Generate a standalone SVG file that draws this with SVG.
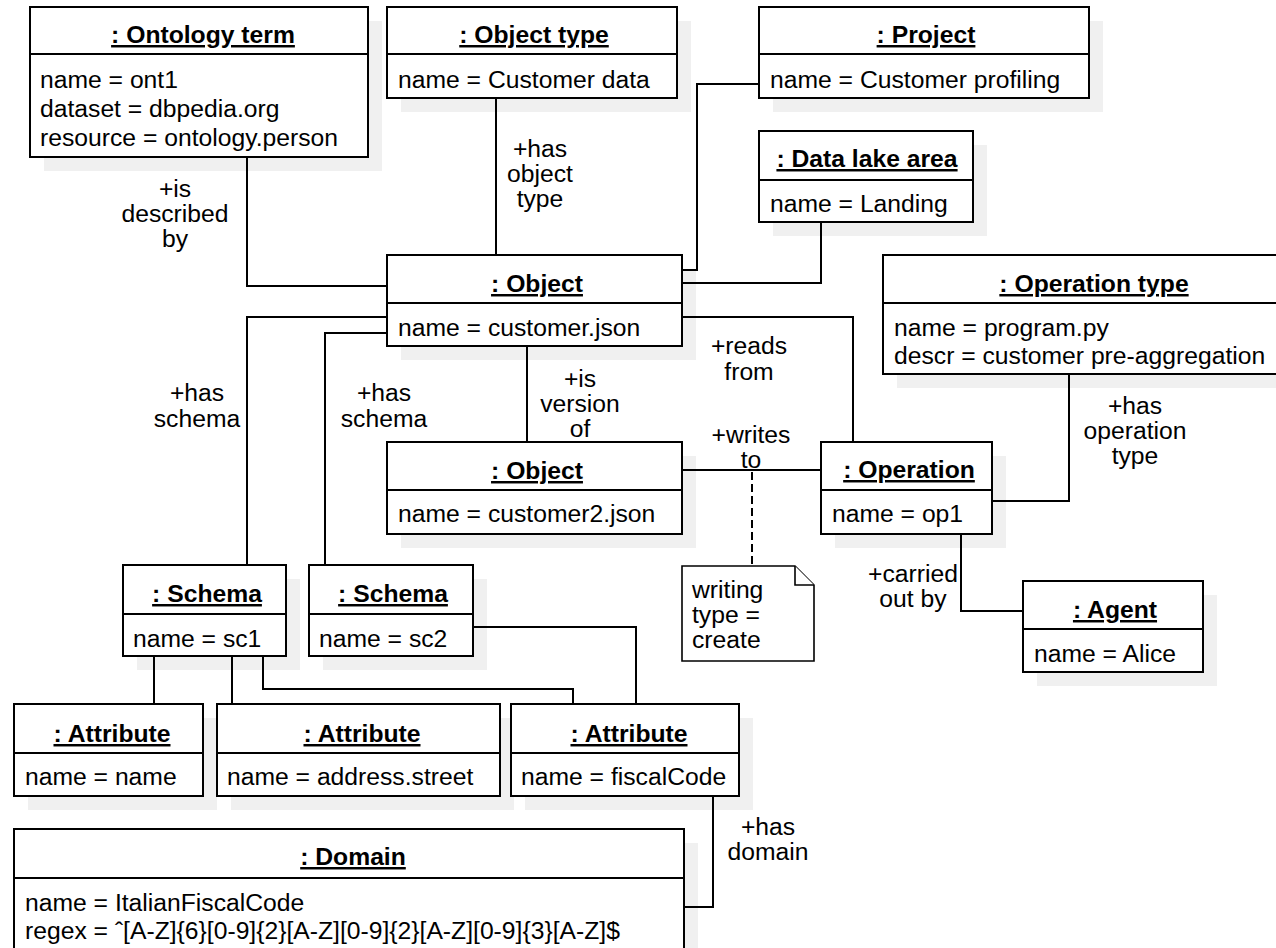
<svg xmlns="http://www.w3.org/2000/svg" width="1276" height="948" viewBox="0 0 1276 948">
  <style>
    text { font-family: "Liberation Sans", Arial, sans-serif; font-size: 24.7px; fill: #000; }
    .title { font-weight: bold; text-decoration: underline; text-anchor: middle; }
    .lbl { text-anchor: middle; }
    .box { fill: #fff; stroke: #000; stroke-width: 2; }
    .shadow { fill: #f0f0f0; stroke: none; }
    .sep { stroke: #000; stroke-width: 2; }
    .edge { fill: none; stroke: #000; stroke-width: 2; }
    .dash { fill: none; stroke: #000; stroke-width: 2; stroke-dasharray: 8 4; }
    .note { fill: #fff; stroke: #000; stroke-width: 1.6; }
  </style>
  <rect width="1276" height="948" fill="#fff"/>

  <!-- object instances -->
  <g id="ontology-term">
    <rect class="shadow" x="44" y="21" width="338" height="150"/>
    <rect class="box" x="30" y="7" width="338" height="150"/>
    <line class="sep" x1="30" y1="54" x2="368" y2="54"/>
    <text class="title" x="203" y="43">: Ontology term</text>
    <text x="40" y="88">name = ont1</text>
    <text x="40" y="117">dataset = dbpedia.org</text>
    <text x="40" y="146">resource = ontology.person</text>
  </g>

  <g id="object-type">
    <rect class="shadow" x="401" y="21" width="290" height="91"/>
    <rect class="box" x="387" y="7" width="290" height="91"/>
    <line class="sep" x1="387" y1="54" x2="677" y2="54"/>
    <text class="title" x="534" y="43">: Object type</text>
    <text x="398" y="88">name = Customer data</text>
  </g>

  <g id="project">
    <rect class="shadow" x="773" y="21" width="330" height="91"/>
    <rect class="box" x="759" y="7" width="330" height="91"/>
    <line class="sep" x1="759" y1="54" x2="1089" y2="54"/>
    <text class="title" x="926" y="43">: Project</text>
    <text x="770" y="88">name = Customer profiling</text>
  </g>

  <g id="data-lake-area">
    <rect class="shadow" x="773" y="145" width="214" height="91"/>
    <rect class="box" x="759" y="131" width="214" height="91"/>
    <line class="sep" x1="759" y1="180" x2="973" y2="180"/>
    <text class="title" x="867" y="167">: Data lake area</text>
    <text x="770" y="212">name = Landing</text>
  </g>

  <g id="operation-type">
    <rect class="shadow" x="897" y="269" width="407" height="119"/>
    <rect class="box" x="883" y="255" width="407" height="119"/>
    <line class="sep" x1="883" y1="303" x2="1290" y2="303"/>
    <text class="title" x="1094" y="292">: Operation type</text>
    <text x="894" y="336">name = program.py</text>
    <text x="894" y="364">descr = customer pre-aggregation</text>
  </g>

  <g id="object-customer">
    <rect class="shadow" x="401" y="269" width="295" height="91"/>
    <rect class="box" x="387" y="255" width="295" height="91"/>
    <line class="sep" x1="387" y1="303" x2="682" y2="303"/>
    <text class="title" x="537" y="292">: Object</text>
    <text x="398" y="336">name = customer.json</text>
  </g>

  <g id="object-customer2">
    <rect class="shadow" x="401" y="456" width="295" height="92"/>
    <rect class="box" x="387" y="442" width="295" height="92"/>
    <line class="sep" x1="387" y1="490" x2="682" y2="490"/>
    <text class="title" x="537" y="479">: Object</text>
    <text x="398" y="522">name = customer2.json</text>
  </g>

  <g id="operation">
    <rect class="shadow" x="835" y="456" width="171" height="92"/>
    <rect class="box" x="821" y="442" width="171" height="92"/>
    <line class="sep" x1="821" y1="490" x2="992" y2="490"/>
    <text class="title" x="909" y="478">: Operation</text>
    <text x="832" y="522">name = op1</text>
  </g>

  <g id="agent">
    <rect class="shadow" x="1037" y="595" width="180" height="91"/>
    <rect class="box" x="1023" y="581" width="180" height="91"/>
    <line class="sep" x1="1023" y1="629" x2="1203" y2="629"/>
    <text class="title" x="1115" y="618">: Agent</text>
    <text x="1034" y="662">name = Alice</text>
  </g>

  <g id="schema-sc1">
    <rect class="shadow" x="137" y="579" width="163" height="91"/>
    <rect class="box" x="123" y="565" width="163" height="91"/>
    <line class="sep" x1="123" y1="614" x2="286" y2="614"/>
    <text class="title" x="207" y="602">: Schema</text>
    <text x="133" y="647">name = sc1</text>
  </g>

  <g id="schema-sc2">
    <rect class="shadow" x="323" y="579" width="164" height="91"/>
    <rect class="box" x="309" y="565" width="164" height="91"/>
    <line class="sep" x1="309" y1="614" x2="473" y2="614"/>
    <text class="title" x="393" y="602">: Schema</text>
    <text x="319" y="647">name = sc2</text>
  </g>

  <g id="attribute-name">
    <rect class="shadow" x="28" y="718" width="189" height="92"/>
    <rect class="box" x="14" y="704" width="189" height="92"/>
    <line class="sep" x1="14" y1="753" x2="203" y2="753"/>
    <text class="title" x="112" y="742">: Attribute</text>
    <text x="25" y="785">name = name</text>
  </g>

  <g id="attribute-street">
    <rect class="shadow" x="231" y="718" width="283" height="92"/>
    <rect class="box" x="217" y="704" width="283" height="92"/>
    <line class="sep" x1="217" y1="753" x2="500" y2="753"/>
    <text class="title" x="362" y="742">: Attribute</text>
    <text x="227" y="785">name = address.street</text>
  </g>

  <g id="attribute-fiscal">
    <rect class="shadow" x="525" y="718" width="228" height="92"/>
    <rect class="box" x="511" y="704" width="228" height="92"/>
    <line class="sep" x1="511" y1="753" x2="739" y2="753"/>
    <text class="title" x="629" y="742">: Attribute</text>
    <text x="521" y="785">name = fiscalCode</text>
  </g>

  <g id="domain">
    <rect class="shadow" x="28" y="843" width="670" height="140"/>
    <rect class="box" x="14" y="829" width="670" height="140"/>
    <line class="sep" x1="14" y1="878" x2="684" y2="878"/>
    <text class="title" x="353" y="865">: Domain</text>
    <text x="25" y="911">name = ItalianFiscalCode</text>
    <text x="25" y="939">regex = ˆ[A-Z]{6}[0-9]{2}[A-Z][0-9]{2}[A-Z][0-9]{3}[A-Z]$</text>
  </g>

  <g id="note-writing-type">
    <path class="note" d="M682,566 H795 L814,585 V661 H682 Z"/>
    <path class="note" fill="none" d="M795,566 V585 H814"/>
    <text x="692" y="598">writing<tspan x="692" dy="25">type =</tspan><tspan x="692" dy="25">create</tspan></text>
  </g>

  <!-- links between instances -->
  <g id="connectors">
    <path class="edge" d="M247,157 V286 H387"/>
    <path class="edge" d="M496,98 V255"/>
    <path class="edge" d="M759,84 H697 V270 H682"/>
    <path class="edge" d="M821,222 V283 H682"/>
    <path class="edge" d="M387,317 H247 V565"/>
    <path class="edge" d="M387,333 H325 V565"/>
    <path class="edge" d="M527,346 V442"/>
    <path class="edge" d="M682,317 H853 V442"/>
    <path class="edge" d="M682,470 H821"/>
    <path class="dash" d="M752,472 V566"/>
    <path class="edge" d="M1069,374 V501 H992"/>
    <path class="edge" d="M961,534 V611 H1023"/>
    <path class="edge" d="M154,656 V704"/>
    <path class="edge" d="M232,656 V704"/>
    <path class="edge" d="M263,656 V689 H573 V704"/>
    <path class="edge" d="M473,627 H636 V704"/>
    <path class="edge" d="M713,796 V907 H684"/>
  </g>

  <!-- role names on the links -->
  <g id="link-labels">
    <text class="lbl" x="175" y="197">+is<tspan x="175" dy="25">described</tspan><tspan x="175" dy="25">by</tspan></text>
    <text class="lbl" x="540" y="157">+has<tspan x="540" dy="25">object</tspan><tspan x="540" dy="25">type</tspan></text>
    <text class="lbl" x="197" y="401">+has<tspan x="197" dy="26">schema</tspan></text>
    <text class="lbl" x="384" y="401">+has<tspan x="384" dy="26">schema</tspan></text>
    <text class="lbl" x="580" y="387">+is<tspan x="580" dy="25">version</tspan><tspan x="580" dy="25">of</tspan></text>
    <text class="lbl" x="749" y="354">+reads<tspan x="749" dy="26">from</tspan></text>
    <text class="lbl" x="751" y="443">+writes<tspan x="751" dy="25">to</tspan></text>
    <text class="lbl" x="1135" y="414">+has<tspan x="1135" dy="25">operation</tspan><tspan x="1135" dy="25">type</tspan></text>
    <text class="lbl" x="913" y="582">+carried<tspan x="913" dy="25">out by</tspan></text>
    <text class="lbl" x="768" y="835">+has<tspan x="768" dy="25">domain</tspan></text>
  </g>
</svg>
